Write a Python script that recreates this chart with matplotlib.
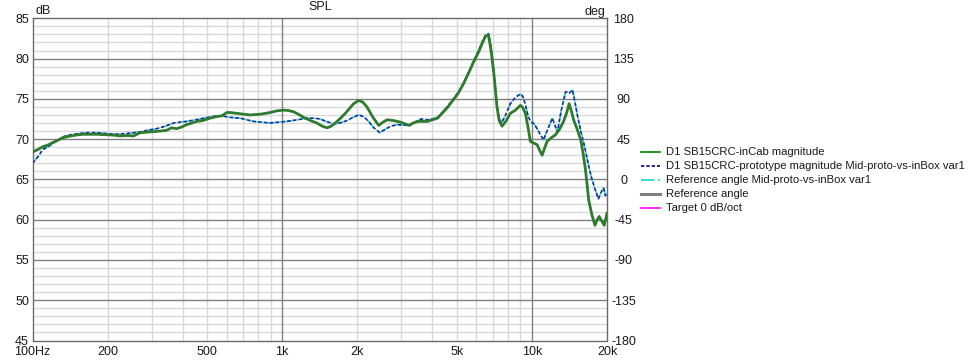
import numpy as np
import matplotlib
matplotlib.use("Agg")
import matplotlib.pyplot as plt
from matplotlib.lines import Line2D
from matplotlib.ticker import FixedLocator, NullFormatter

plt.rcParams['font.family'] = ['Liberation Sans', 'DejaVu Sans']
plt.rcParams['axes.unicode_minus'] = False

# ---------------- data ----------------
green_f = [100, 105, 110, 116, 121, 127, 133, 140, 146, 153, 160, 170, 181, 195, 211, 224, 240, 254,
           270, 296, 324, 345, 360, 378, 395, 415, 435, 455, 480, 514, 545, 574, 600, 619, 680, 743,
           820, 894, 950, 1011, 1060, 1110, 1160, 1219, 1300, 1377, 1450, 1513, 1570, 1632, 1700,
           1790, 1860, 1933, 2025, 2100, 2185, 2300, 2435, 2530, 2633, 2800, 2984, 3100, 3229, 3350,
           3494, 3650, 3813, 4000, 4193, 4400, 4613, 4850, 5074, 5330, 5580, 5850, 6137, 6350, 6530,
           6700, 6825, 6930, 7040, 7150, 7250, 7400, 7600, 7900, 8200, 8600, 9000, 9200, 9420, 9650,
           9870, 10200, 10500, 10750, 11000, 11250, 11500, 12000, 12400, 12900, 13400, 13800, 14100,
           14400, 14700, 15200, 15700, 16050, 16400, 16900, 17400, 17900, 18200, 18600, 19000, 19500,
           20000]
green_db = [68.4, 68.7, 69.05, 69.3, 69.6, 69.9, 70.2, 70.35, 70.45, 70.55, 70.6, 70.6, 70.6, 70.55,
            70.5, 70.4, 70.45, 70.4, 70.8, 70.9, 71.0, 71.1, 71.4, 71.3, 71.5, 71.8, 72.0, 72.2, 72.3,
            72.6, 72.8, 72.9, 73.3, 73.3, 73.15, 73.0, 73.1, 73.3, 73.5, 73.6, 73.55, 73.4, 73.1, 72.7,
            72.3, 72.0, 71.6, 71.4, 71.6, 72.0, 72.5, 73.2, 73.8, 74.4, 74.8, 74.6, 74.0, 72.8, 71.7,
            72.1, 72.4, 72.3, 72.1, 71.9, 71.7, 72.0, 72.2, 72.2, 72.2, 72.4, 72.6, 73.3, 74.0, 74.9,
            75.7, 76.9, 78.2, 79.6, 80.9, 82.0, 82.8, 82.9, 81.5, 80.0, 78.2, 76.0, 74.0, 72.3, 71.6,
            72.3, 73.2, 73.6, 74.2, 73.9, 73.2, 71.5, 69.7, 69.5, 69.3, 68.6, 68.0, 68.9, 69.7, 70.2,
            70.5, 71.2, 72.2, 73.3, 74.4, 73.5, 72.4, 71.2, 69.9, 68.2, 66.2, 62.4, 60.6, 59.3, 59.9,
            60.4, 59.9, 59.3, 60.8]

blue_f = [100, 105, 110, 116, 121, 127, 133, 140, 146, 155, 165, 180, 198, 215, 239, 255, 270, 290,
          314, 340, 367, 390, 415, 440, 469, 505, 547, 580, 619, 680, 766, 830, 894, 960, 1043, 1150,
          1257, 1340, 1420, 1500, 1608, 1700, 1818, 1920, 2025, 2120, 2218, 2330, 2460, 2580, 2717,
          2900, 3181, 3400, 3600, 3813, 4000, 4193, 4400, 4613, 4850, 5074, 5330, 5580, 5850, 6137,
          6350, 6530, 6700, 6825, 6930, 7040, 7150, 7250, 7400, 7550, 7800, 8200, 8600, 9000, 9200,
          9420, 9650, 9870, 10200, 10500, 10800, 11130, 11500, 12080, 12350, 12660, 13100, 13660,
          14100, 14560, 14900, 15260, 15700, 16260, 16800, 17300, 17900, 18480, 19000, 19400, 19700,
          20000]
blue_db = [67.0, 67.8, 68.7, 69.1, 69.5, 69.9, 70.3, 70.5, 70.6, 70.7, 70.8, 70.8, 70.7, 70.6, 70.7,
           70.8, 70.9, 71.1, 71.3, 71.6, 72.0, 72.1, 72.2, 72.35, 72.5, 72.7, 72.9, 72.85, 72.7, 72.6,
           72.2, 72.1, 72.0, 72.1, 72.2, 72.4, 72.6, 72.6, 72.5, 72.2, 71.9, 72.0, 72.3, 72.7, 73.0,
           72.8, 72.2, 71.4, 70.8, 71.2, 71.6, 71.8, 71.7, 72.1, 72.5, 72.4, 72.5, 72.7, 73.4, 74.1,
           75.0, 75.8, 77.0, 78.3, 79.7, 81.1, 82.2, 82.9, 83.1, 82.0, 80.3, 78.4, 76.2, 74.2, 72.5,
           72.0, 72.8, 74.4, 75.2, 75.6, 75.3, 74.3, 72.9, 72.2, 71.9, 71.3, 70.6, 69.9, 71.0, 72.6,
           71.8, 70.9, 73.5, 75.9, 75.7, 76.1, 74.5, 72.8, 71.0, 69.1, 67.0, 65.3, 63.8, 62.6, 63.5,
           63.9, 63.0, 63.3]

x_ticks = [100, 200, 500, 1000, 2000, 5000, 10000, 20000]
x_labels = ["100Hz", "200", "500", "1k", "2k", "5k", "10k", "20k"]
db_ticks = [45, 50, 55, 60, 65, 70, 75, 80, 85]
deg_ticks = [-180, -135, -90, -45, 0, 45, 90, 135, 180]

legend_labels = ["D1 SB15CRC-inCab magnitude",
                 "D1 SB15CRC-prototype magnitude Mid-proto-vs-inBox var1",
                 "Reference angle Mid-proto-vs-inBox var1",
                 "Reference angle",
                 "Target 0 dB/oct"]

# ---------------- figure ----------------
W, H = 971, 360
fig = plt.figure(figsize=(W / 100, H / 100), dpi=100)
L, R, T, B = 32.5, 607, 18.3, 340.5
ax = fig.add_axes([L / W, 1 - B / H, (R - L) / W, (B - T) / H])

major_c = '#808080'
minor_c = '#d9d9d9'
text_c = '#1a1a1a'

ax.set_xscale('log')
ax.set_xlim(100, 20000)
ax.set_ylim(45, 85)

minor_x = [f * d for d in (100, 1000) for f in range(2, 10)]
for f in minor_x:
    ax.axvline(f, color=minor_c, lw=1.0, zorder=0)
for f in (1000, 10000):
    ax.axvline(f, color=major_c, lw=1.0, zorder=0.5)
for v in range(46, 85):
    if v % 5:
        ax.axhline(v, color=minor_c, lw=1.0, zorder=0)
for v in range(50, 85, 5):
    ax.axhline(v, color=major_c, lw=1.0, zorder=0.5)

ax.xaxis.set_major_locator(FixedLocator(x_ticks))
ax.set_xticklabels(x_labels)
ax.xaxis.set_minor_locator(FixedLocator([]))
ax.xaxis.set_minor_formatter(NullFormatter())
ax.set_yticks(db_ticks)
ax.tick_params(axis='both', length=0, labelsize=9, colors=text_c)
ax.tick_params(axis='x', pad=4)
ax.tick_params(axis='y', pad=2.5)
for s in ax.spines.values():
    s.set_color('#6a6a6a')
    s.set_linewidth(1.0)

# curves
ax.plot(blue_f, blue_db, color='#3fd8d8', lw=1.2, ls='-.', zorder=3)
ax.plot(blue_f, blue_db, color='#1a2f9a', lw=1.2, ls=(0, (2.2, 1.3)), zorder=4)
ax.plot(green_f, green_db, color='#2e7b2e', lw=2.0, zorder=5, solid_joinstyle='round')

# right axis
ax2 = ax.twinx()
ax2.set_ylim(-180, 180)
ax2.set_yticks(deg_ticks)
ax2.tick_params(axis='y', length=0, labelsize=9, colors=text_c, pad=12)
for lab in ax2.get_yticklabels():
    lab.set_horizontalalignment('center')
for s in ax2.spines.values():
    s.set_visible(False)

# titles
fig.text(320 / W, 1 - 7.5 / H, "SPL", ha='center', va='center', fontsize=9, color=text_c)
fig.text(35 / W, 1 - 11 / H, "dB", ha='left', va='center', fontsize=9, color=text_c)
fig.text(605 / W, 1 - 11.5 / H, "deg", ha='right', va='center', fontsize=9, color=text_c)

# legend (manual)
leg_styles = [dict(color='#008000', lw=1.2, ls='-'),
              dict(color='#000080', lw=1.2, ls=(0, (2, 1.2))),
              dict(color='#40e0d0', lw=1.5, ls='-.'),
              dict(color='#808080', lw=2.2, ls='-'),
              dict(color='#ff00ff', lw=1.2, ls='-')]
y0 = 152.3
dy = 13.85
for i, (lab, st) in enumerate(zip(legend_labels, leg_styles)):
    yy = 1 - (y0 + i * dy) / H
    fig.add_artist(Line2D([641 / W, 660 / W], [yy, yy], transform=fig.transFigure, **st))
    fig.text(665.5 / W, yy, lab, ha='left', va='center', fontsize=8.1, color=text_c)

fig.savefig("out.png", dpi=100)
